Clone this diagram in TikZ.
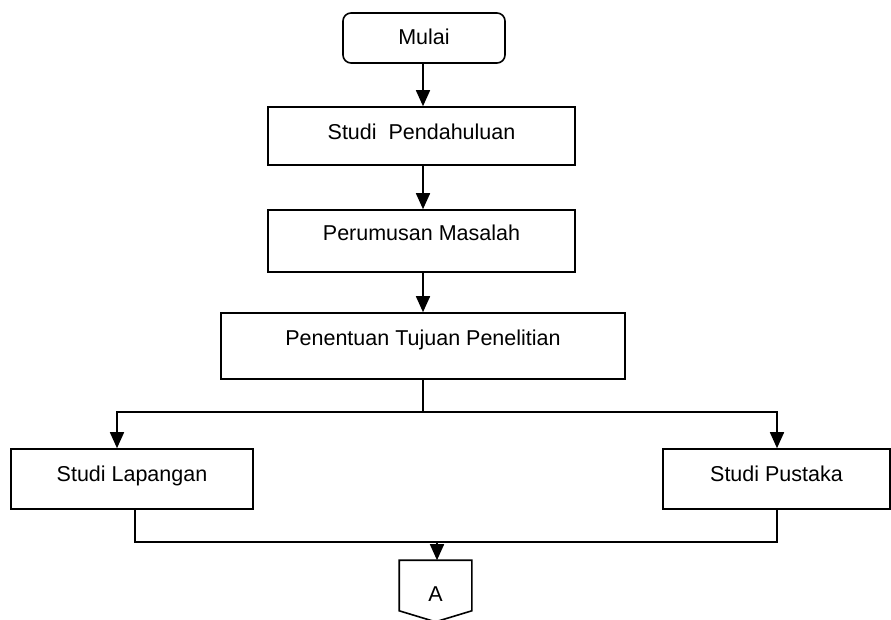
\documentclass[tikz,border=0pt]{standalone}
\usepackage{fontspec}
\setmainfont{Liberation Sans}
\usetikzlibrary{arrows.meta}
\begin{document}
\begin{tikzpicture}[x=1pt,y=-1pt,
  box/.style={draw, line width=1.6pt, inner sep=0pt, text height=15pt, text depth=4.5pt,
    font=\fontsize{21.5}{26}\selectfont},
  conn/.style={line width=1.6pt},
  arr/.style={conn, -{Triangle[length=16pt,width=14pt]}}]
\useasboundingbox (0,0) rectangle (891,619);
\node[box, rounded corners=8pt, minimum width=162pt, minimum height=50pt, text depth=2.5pt] (mulai) at (424,38) {Mulai};
\node[box, minimum width=307pt, minimum height=58pt, text depth=8.5pt] (sp) at (421.5,136) {Studi\ \ Pendahuluan};
\node[box, minimum width=307pt, minimum height=62pt, text depth=16.5pt] (pm) at (421.5,241) {Perumusan Masalah};
\node[box, minimum width=404pt, minimum height=66pt, text depth=16.5pt] (pt) at (423,346) {Penentuan Tujuan Penelitian};
\node[box, minimum width=242pt, minimum height=60pt, text depth=10.5pt] (sl) at (132,479) {Studi Lapangan};
\node[box, minimum width=227pt, minimum height=60pt, text depth=10.5pt] (sk) at (776.5,479) {Studi Pustaka};
\node[box, draw=none, minimum width=71pt, minimum height=49pt, text height=36pt] (A) at (435.5,585.5) {A};
\draw[conn] (A.north west) -- (A.north east) -- (A.south east) -- ([yshift=-11pt]A.south) -- (A.south west) -- cycle;
\coordinate (top1) at (423,0);
\draw[arr] (top1 |- mulai.south) -- (top1 |- sp.north);
\draw[arr] (top1 |- sp.south) -- (top1 |- pm.north);
\draw[arr] (top1 |- pm.south) -- (top1 |- pt.north);
\coordinate (j1) at (423,412);
\coordinate (l1) at (117,412);
\coordinate (r1) at (777,412);
\draw[conn] (top1 |- pt.south) -- (j1);
\draw[arr] (j1) -- (l1) -- (l1 |- sl.north);
\draw[arr] (j1) -- (r1) -- (r1 |- sk.north);
\coordinate (b1) at (135,542);
\coordinate (b2) at (777,542);
\coordinate (jb) at (437,542);
\draw[conn] (b1 |- sl.south) -- (b1) -- (b2) -- (b2 |- sk.south);
\draw[arr] (jb) -- (jb |- A.north);
\end{tikzpicture}
\end{document}
